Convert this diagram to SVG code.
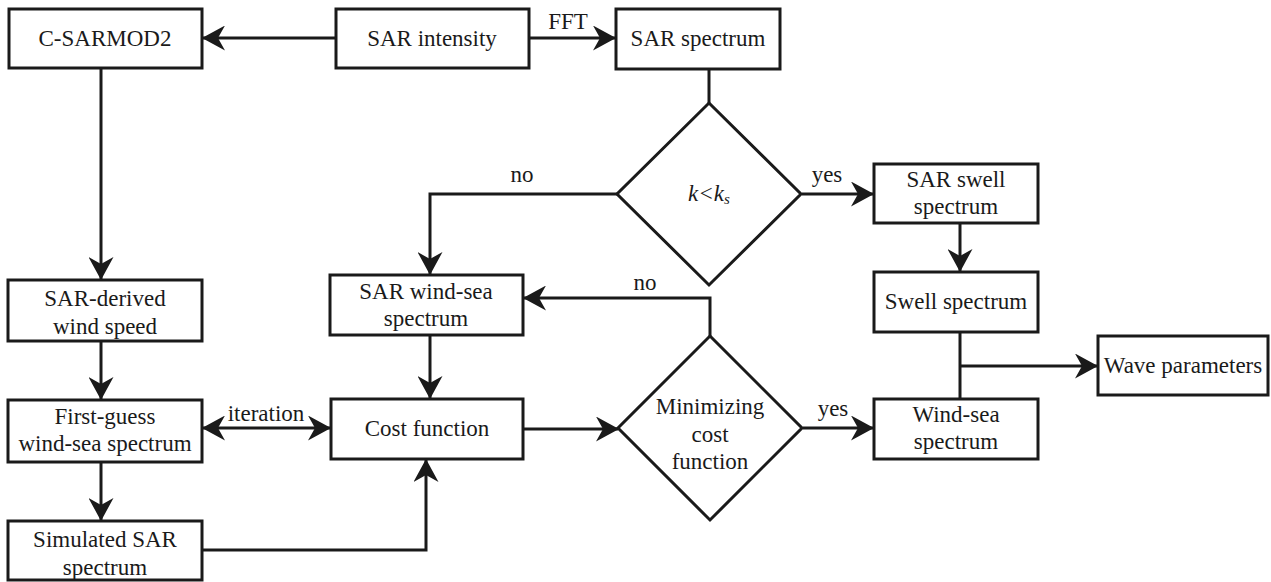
<svg xmlns="http://www.w3.org/2000/svg" width="1271" height="582" viewBox="0 0 1271 582">
<style>
.box{fill:#fff;stroke:#1a1a1a;stroke-width:3}
.t{font-family:"Liberation Serif","Times New Roman",serif;font-size:23px;fill:#1a1a1a;text-anchor:middle}
.c{fill:none;stroke:#1a1a1a;stroke-width:3}
.a{marker-end:url(#ah)}
</style>
<defs>
<marker id="ah" markerUnits="userSpaceOnUse" viewBox="0 0 23 25" markerWidth="23" markerHeight="25" refX="22" refY="12.5" orient="auto-start-reverse">
<path d="M23,12.5 L0,0 L7,12.5 L0,25 Z" fill="#1a1a1a"/>
</marker>
</defs>
<rect width="1271" height="582" fill="#fff"/>
<g id="connectors">
<line class="c a" x1="336" y1="38" x2="203" y2="38"/>
<line class="c a" x1="529" y1="38" x2="615" y2="38"/>
<line class="c" x1="709" y1="69" x2="709" y2="103"/>
<line class="c a" x1="802" y1="194" x2="873" y2="194"/>
<polyline class="c a" points="618,194 430,194 430,274"/>
<line class="c a" x1="960" y1="223" x2="960" y2="271"/>
<line class="c" x1="960" y1="332" x2="960" y2="399"/>
<line class="c a" x1="960" y1="366" x2="1097" y2="366"/>
<line class="c a" x1="101" y1="68" x2="101" y2="279"/>
<line class="c a" x1="101" y1="341" x2="101" y2="399"/>
<line class="c a" x1="101" y1="462" x2="101" y2="520"/>
<line class="c a" x1="203" y1="428" x2="330" y2="428" marker-start="url(#ah)"/>
<polyline class="c a" points="202,550 426,550 426,460"/>
<line class="c a" x1="430" y1="335" x2="430" y2="398"/>
<line class="c a" x1="523" y1="429" x2="618" y2="429"/>
<polyline class="c a" points="710,336 710,298 524,298"/>
<line class="c a" x1="803" y1="428" x2="873" y2="428"/>
<text class="t" x="568" y="29">FFT</text>
<text class="t" x="827" y="182">yes</text>
<text class="t" x="522" y="182">no</text>
<text class="t" x="645" y="290">no</text>
<text class="t" x="833" y="416">yes</text>
<text class="t" x="266" y="421">iteration</text>
</g>
<g id="csarmod2"><rect class="box" x="9" y="9" width="193" height="59"/><text class="t" x="105" y="46">C-SARMOD2</text></g>
<g id="sar-intensity"><rect class="box" x="336" y="9" width="193" height="59"/><text class="t" x="432" y="46">SAR intensity</text></g>
<g id="sar-spectrum"><rect class="box" x="616" y="9" width="164" height="60"/><text class="t" x="698" y="46">SAR spectrum</text></g>
<g id="decision-k"><polygon class="box" points="709,103 801,194 709,285 617,194"/><text class="t" x="709" y="201" font-style="italic">k&lt;k<tspan font-size="15" dy="3">s</tspan></text></g>
<g id="sar-swell"><rect class="box" x="874" y="164" width="164" height="59"/><text class="t" x="956" y="187">SAR swell</text><text class="t" x="956" y="214">spectrum</text></g>
<g id="swell"><rect class="box" x="874" y="272" width="164" height="60"/><text class="t" x="956" y="309">Swell spectrum</text></g>
<g id="wave-params"><rect class="box" x="1098" y="336" width="170" height="59"/><text class="t" x="1183" y="373">Wave parameters</text></g>
<g id="wind-sea"><rect class="box" x="874" y="399" width="164" height="60"/><text class="t" x="956" y="422">Wind-sea</text><text class="t" x="956" y="449">spectrum</text></g>
<g id="sar-wind-sea"><rect class="box" x="330" y="275" width="193" height="60"/><text class="t" x="426" y="299">SAR wind-sea</text><text class="t" x="426" y="326">spectrum</text></g>
<g id="cost"><rect class="box" x="331" y="399" width="192" height="60"/><text class="t" x="427" y="436">Cost function</text></g>
<g id="decision-min"><polygon class="box" points="710,336 802,428 710,520 618,428"/><text class="t" x="710" y="414">Minimizing</text><text class="t" x="710" y="442">cost</text><text class="t" x="710" y="469">function</text></g>
<g id="sar-derived"><rect class="box" x="8" y="280" width="194" height="61"/><text class="t" x="105" y="306">SAR-derived</text><text class="t" x="105" y="334">wind speed</text></g>
<g id="first-guess"><rect class="box" x="8" y="400" width="194" height="62"/><text class="t" x="105" y="424">First-guess</text><text class="t" x="105" y="451">wind-sea spectrum</text></g>
<g id="simulated"><rect class="box" x="8" y="521" width="194" height="59"/><text class="t" x="105" y="547">Simulated SAR</text><text class="t" x="105" y="575">spectrum</text></g>
</svg>
